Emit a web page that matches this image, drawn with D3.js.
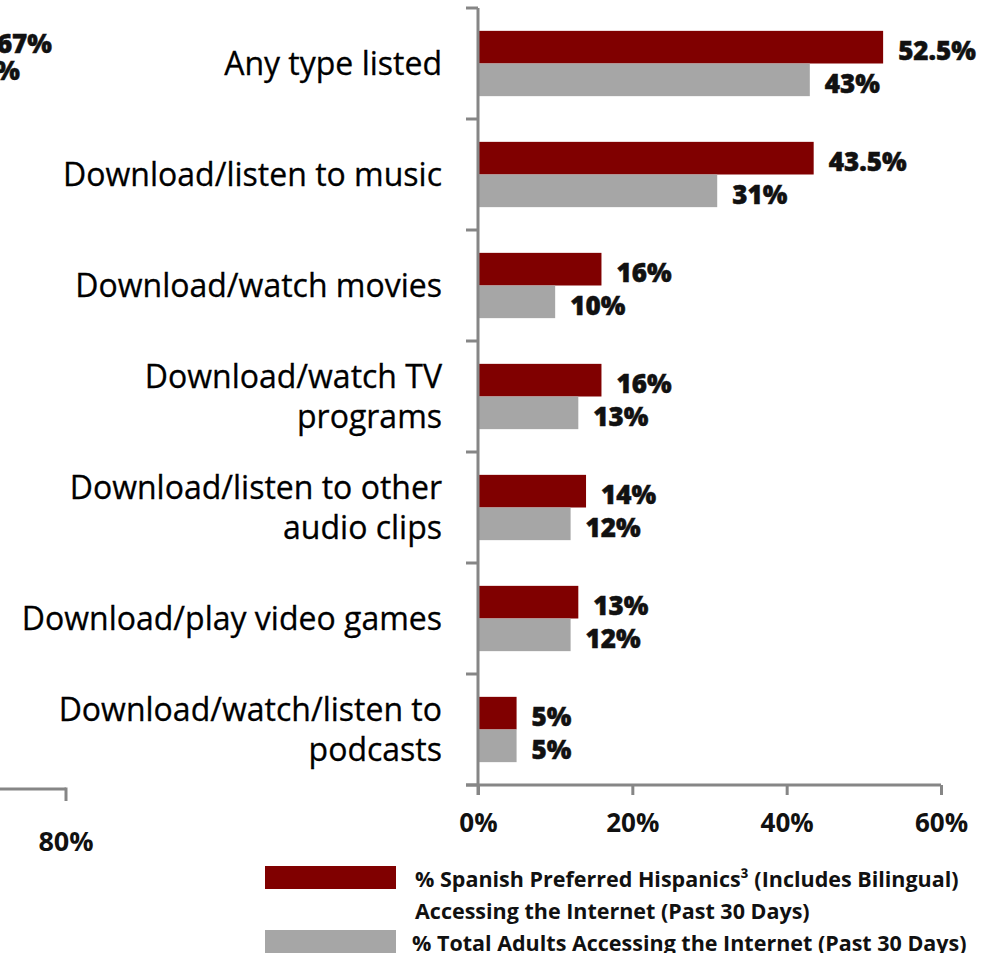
<!DOCTYPE html>
<html>
<head>
<meta charset="utf-8">
<script src="https://cdn.jsdelivr.net/npm/d3@7"></script>
<style>
  html, body { margin: 0; padding: 0; background: #fff; }
  svg { display: block; }
  text { font-family: "Open Sans", "Noto Sans", sans-serif; }
</style>
</head>
<body>
<svg id="chart" width="990" height="953"></svg>
<script>
// Categories (multi-line labels split with "\n")
const categories = [
  "Any type listed",
  "Download/listen to music",
  "Download/watch movies",
  "Download/watch TV\nprograms",
  "Download/listen to other\naudio clips",
  "Download/play video games",
  "Download/watch/listen to\npodcasts"
];
const spanishPreferred = [52.5, 43.5, 16, 16, 14, 13, 5];
const totalAdults = [43, 31, 10, 13, 12, 12, 5];
const spanishLabels = ["52.5%", "43.5%", "16%", "16%", "14%", "13%", "5%"];
const totalLabels = ["43%", "31%", "10%", "13%", "12%", "12%", "5%"];
const xTicks = [0, 20, 40, 60];
const seriesNames = [
  "% Spanish Preferred Hispanics³ (Includes Bilingual)\nAccessing the Internet (Past 30 Days)",
  "% Total Adults Accessing the Internet (Past 30 Days)"
];
const seriesKeys = ["spanish", "total"];
const colors = ["#800000", "#A6A6A6"];

// Edge of the neighbouring panel that sits to the left
const neighbourValueLabels = ["67%", "%"];
const neighbourTicks = [80];

const svg = d3.select("#chart");
const axisColor = "#868686";

const x = d3.scaleLinear().domain([0, 60]).range([478, 941]);
const y = d3.scaleBand().domain(categories).range([8, 785]);
const sub = d3.scaleBand().domain(seriesKeys).range([0, y.bandwidth()])
  .paddingInner(0).paddingOuter(0.7);

const rows = categories.map((c, i) => ({
  cat: c,
  vals: [
    { key: "spanish", v: spanishPreferred[i], label: spanishLabels[i], color: colors[0] },
    { key: "total", v: totalAdults[i], label: totalLabels[i], color: colors[1] }
  ]
}));

// Bars
const g = svg.append("g");
const rowG = g.selectAll("g.row").data(rows).join("g")
  .attr("class", "row")
  .attr("transform", d => `translate(0,${y(d.cat)})`);

rowG.selectAll("rect").data(d => d.vals).join("rect")
  .attr("x", x(0))
  .attr("y", d => sub(d.key))
  .attr("width", d => x(d.v) - x(0))
  .attr("height", sub.bandwidth())
  .attr("fill", d => d.color);

// Value labels
rowG.selectAll("text.val").data(d => d.vals).join("text")
  .attr("class", "val")
  .attr("x", d => x(d.v) + 15)
  .attr("y", d => sub(d.key) + sub.bandwidth() / 2 + 3)
  .attr("dominant-baseline", "central")
  .attr("font-size", 26)
  .attr("font-weight", 800)
  .attr("fill", "#111")
  .attr("stroke", "#111")
  .attr("stroke-width", 0.5)
  .text(d => d.label);

// Category axis (left) with ticks at band boundaries
const yAxis = svg.append("g");
yAxis.append("line")
  .attr("x1", x(0)).attr("x2", x(0))
  .attr("y1", y.range()[0]).attr("y2", y.range()[1] + 10)
  .attr("stroke", axisColor).attr("stroke-width", 3);
const bounds = categories.map(c => y(c)).concat([y.range()[1]]);
yAxis.selectAll("line.tk").data(bounds).join("line")
  .attr("class", "tk")
  .attr("x1", x(0) - 12).attr("x2", x(0))
  .attr("y1", d => d).attr("y2", d => d)
  .attr("stroke", axisColor).attr("stroke-width", 3);

// Category labels
const catG = svg.append("g");
categories.forEach(c => {
  const lines = c.split("\n");
  const cy = y(c) + y.bandwidth() / 2;
  const lh = 40;
  lines.forEach((ln, j) => {
    catG.append("text")
      .attr("x", 442)
      .attr("y", cy + (j - (lines.length - 1) / 2) * lh - 1)
      .attr("text-anchor", "end")
      .attr("dominant-baseline", "central")
      .attr("font-size", 32)
      .attr("fill", "#000")
      .attr("stroke", "#000")
      .attr("stroke-width", 0.3)
      .text(ln);
  });
});

// Value axis (bottom)
const xAxisG = svg.append("g").attr("transform", `translate(0,${y.range()[1]})`);
xAxisG.call(d3.axisBottom(x).tickValues(xTicks).tickSize(10).tickSizeOuter(0).tickFormat(d => d + "%"));
xAxisG.select(".domain").attr("stroke", axisColor).attr("stroke-width", 3)
  .attr("d", `M${x(0) - 12},0H${x(60)}`);
xAxisG.selectAll(".tick line").attr("stroke", axisColor).attr("stroke-width", 3);
xAxisG.selectAll(".tick text")
  .attr("y", 38)
  .attr("dy", "0.35em")
  .attr("font-size", 26)
  .attr("font-weight", 700)
  .attr("fill", "#111")
  .attr("font-family", "'Open Sans', sans-serif");

// Fragment of the neighbouring panel on the far left
const nx = d3.scaleLinear().domain([80, 90]).range([66, 220]);
const nAxis = svg.append("g").attr("transform", "translate(0,789)");
nAxis.append("line").attr("x1", -5).attr("x2", nx(80)).attr("y1", 0).attr("y2", 0)
  .attr("stroke", axisColor).attr("stroke-width", 3);
nAxis.selectAll("line.tk").data(neighbourTicks).join("line").attr("class", "tk")
  .attr("x1", d => nx(d)).attr("x2", d => nx(d)).attr("y1", -1.5).attr("y2", 12)
  .attr("stroke", axisColor).attr("stroke-width", 3);
nAxis.selectAll("text").data(neighbourTicks).join("text")
  .attr("x", d => nx(d)).attr("y", 51)
  .attr("text-anchor", "middle").attr("dominant-baseline", "central")
  .attr("font-size", 27).attr("font-weight", 700).attr("fill", "#111")
  .text(d => d + "%");
svg.selectAll("text.nval").data(neighbourValueLabels).join("text")
  .attr("class", "nval")
  .attr("x", (d, i) => i === 0 ? 52 : 20)
  .attr("y", (d, i) => i === 0 ? 43 : 70)
  .attr("text-anchor", "end").attr("dominant-baseline", "central")
  .attr("font-size", 26).attr("font-weight", 800).attr("fill", "#111")
  .attr("stroke", "#111").attr("stroke-width", 0.5)
  .text(d => d);

// Legend
const legend = svg.append("g");
const legendRows = [
  { y: 866, lines: seriesNames[0].split("\n"), color: colors[0], tx: 415 },
  { y: 930, lines: seriesNames[1].split("\n"), color: colors[1], tx: 412 }
];
legendRows.forEach(r => {
  legend.append("rect")
    .attr("x", 265).attr("y", r.y).attr("width", 131).attr("height", 23)
    .attr("fill", r.color);
  r.lines.forEach((ln, j) => {
    legend.append("text")
      .attr("x", r.tx).attr("y", r.y + 12 + j * 32)
      .attr("dominant-baseline", "central")
      .attr("font-size", 21.5).attr("font-weight", 700).attr("fill", "#111")
      .text(ln);
  });
});
</script>
</body>
</html>
